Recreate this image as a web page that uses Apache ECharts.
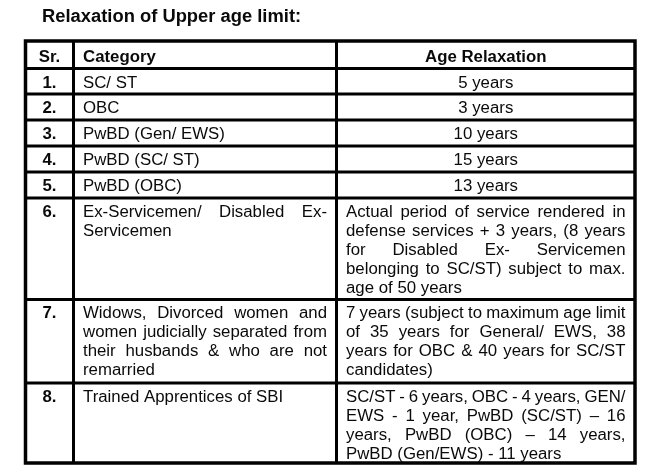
<!DOCTYPE html>
<html>
<head>
<meta charset="utf-8">
<script src="https://cdn.jsdelivr.net/npm/echarts@6/dist/echarts.min.js"></script>
<style>
    html, body { margin: 0; padding: 0; background: #fff; }
    #main { width: 648px; height: 475px; }
</style>
</head>
<body>
<div id="main"></div>
<script>
// table content
var titleText = 'Relaxation of Upper age limit:';
var headers = ['Sr.', 'Category', 'Age Relaxation'];
var srNo = ['1.', '2.', '3.', '4.', '5.', '6.', '7.', '8.'];
var categories = [
    ['SC/ ST'],
    ['OBC'],
    ['PwBD (Gen/ EWS)'],
    ['PwBD (SC/ ST)'],
    ['PwBD (OBC)'],
    ['Ex-Servicemen/ Disabled Ex-', 'Servicemen'],
    ['Widows, Divorced women and', 'women judicially separated from', 'their husbands & who are not', 'remarried'],
    ['Trained Apprentices of SBI']
];
var relaxations = [
    ['5 years'],
    ['3 years'],
    ['10 years'],
    ['15 years'],
    ['13 years'],
    ['Actual period of service rendered in', 'defense services + 3 years, (8 years', 'for Disabled Ex- Servicemen',
        'belonging to SC/ST) subject to max.', 'age of 50 years'],
    ['7 years (subject to maximum age limit', 'of 35 years for General/ EWS, 38', 'years for OBC & 40 years for SC/ST',
        'candidates)'],
    ['SC/ST - 6 years, OBC - 4 years, GEN/', 'EWS - 1 year, PwBD (SC/ST) \u2013 16', 'years, PwBD (OBC) \u2013 14 years,',
        'PwBD (Gen/EWS) - 11 years']
];

// layout of the grid (line centres)
var colX = [25.5, 73.5, 336.5, 635];
var rowY = [41, 68.5, 94, 120, 146, 172, 198, 299.5, 383, 463];
var pad = 9.5;
var lineH = 19;
var firstLine = 14.5;
var fam = '"Liberation Sans", Arial, sans-serif';
var fs = 16, sx = 1.05;

var ctx = document.createElement('canvas').getContext('2d');
function textW(s, weight) {
    ctx.font = weight + ' ' + fs + 'px ' + fam;
    return ctx.measureText(s).width * sx;
}

var elements = [];

function addText(s, x, y, align, weight, size, scale) {
    elements.push({
        type: 'text',
        x: x, y: y,
        scaleX: scale,
        style: {
            text: s, x: 0, y: 0,
            fill: '#0a0a0a',
            font: weight + ' ' + size + 'px ' + fam,
            textAlign: align, align: align,
            textVerticalAlign: 'middle', verticalAlign: 'middle'
        }
    });
}

// one cell paragraph, justified like the source except its last line
function addCell(lines, x0, x1, cellTop, cellBottom, centred, multiRow) {
    if (!multiRow) {
        var yc = (cellTop + cellBottom) / 2 + 2;
        if (centred) addText(lines[0], (x0 + x1) / 2, yc, 'center', 'normal', fs, sx);
        else addText(lines[0], x0, yc, 'left', 'normal', fs, sx);
        return;
    }
    for (var i = 0; i < lines.length; i++) {
        var y = cellTop + firstLine + i * lineH;
        var words = lines[i].split(' ').filter(Boolean);
        if (i === lines.length - 1 || words.length < 2) {
            addText(lines[i], x0, y, 'left', 'normal', fs, sx);
            continue;
        }
        var ws = words.map(function (w) { return textW(w, 'normal'); });
        var sum = ws.reduce(function (a, b) { return a + b; }, 0);
        var gap = (x1 - x0 - sum) / (words.length - 1);
        var cx = x0;
        for (var j = 0; j < words.length; j++) {
            addText(words[j], cx, y, 'left', 'normal', fs, sx);
            cx += ws[j] + gap;
        }
    }
}

function buildTable() {
    // title
    addText(titleText, 42, 17, 'left', 'bold', 18, 1.02);

    // header row
    var hy = (rowY[0] + rowY[1]) / 2 + 2.5;
    addText(headers[0], (colX[0] + colX[1]) / 2, hy, 'center', 'bold', fs, sx);
    addText(headers[1], colX[1] + pad, hy, 'left', 'bold', fs, sx);
    addText(headers[2], (colX[2] + colX[3]) / 2, hy, 'center', 'bold', fs, sx);

    // body rows
    for (var r = 0; r < srNo.length; r++) {
        var rTop = rowY[r + 1], rBot = rowY[r + 2];
        var multi = categories[r].length > 1 || relaxations[r].length > 1;
        var ny = multi ? rTop + firstLine : (rTop + rBot) / 2 + 2;
        addText(srNo[r], (colX[0] + colX[1]) / 2, ny, 'center', 'bold', fs, sx);
        addCell(categories[r], colX[1] + pad, colX[2] - pad, rTop, rBot, false, multi);
        addCell(relaxations[r], colX[2] + pad, colX[3] - pad, rTop, rBot, r < 5, multi);
    }

    // grid lines
    for (var k = 1; k < rowY.length - 1; k++) {
        elements.push({
            type: 'line',
            shape: {x1: colX[0], y1: rowY[k], x2: colX[3], y2: rowY[k]},
            style: {stroke: '#000', lineWidth: 3}
        });
    }
    for (var c = 1; c < colX.length - 1; c++) {
        elements.push({
            type: 'line',
            shape: {x1: colX[c], y1: rowY[0], x2: colX[c], y2: rowY[rowY.length - 1]},
            style: {stroke: '#000', lineWidth: 3}
        });
    }
    elements.push({
        type: 'rect',
        shape: {x: colX[0], y: rowY[0], width: colX[3] - colX[0], height: rowY[rowY.length - 1] - rowY[0]},
        style: {fill: null, stroke: '#000', lineWidth: 3.5}
    });
}

buildTable();

var myChart = echarts.init(document.getElementById('main'));
var option = {
    backgroundColor: '#fff',
    animation: false,
    graphic: {elements: elements}
};
myChart.setOption(option);
</script>
</body>
</html>
